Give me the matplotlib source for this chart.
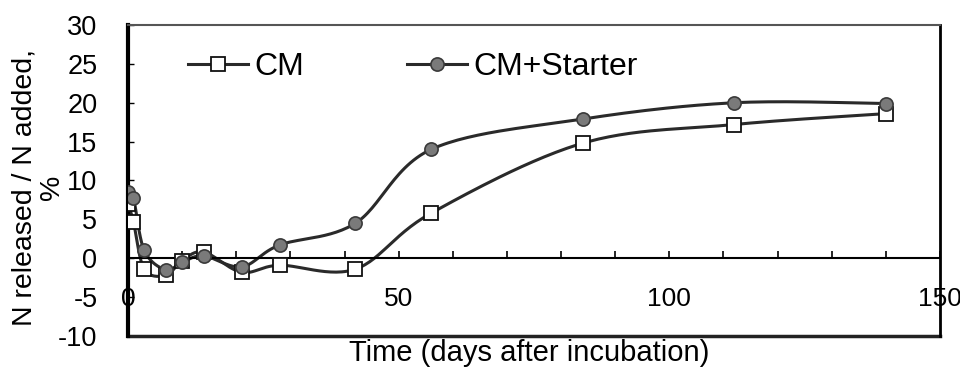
import numpy as np
import matplotlib
matplotlib.use("Agg")
import matplotlib.pyplot as plt
import matplotlib.transforms as mtransforms
from matplotlib.ticker import MultipleLocator

plt.rcParams['font.family'] = ['Liberation Sans', 'DejaVu Sans']
plt.rcParams['axes.unicode_minus'] = False

# data
days = [0, 1, 3, 7, 10, 14, 21, 28, 42, 56, 84, 112, 140]
cm = [7.0, 4.7, -1.4, -2.2, -0.3, 0.8, -1.8, -0.9, -1.4, 5.8, 14.8, 17.2, 18.6]
cm_starter = [8.5, 7.8, 1.0, -1.5, -0.5, 0.3, -1.1, 1.7, 4.5, 14.0, 17.9, 20.0, 19.9]

line_col = '#2a2a2a'


def smooth(ax, xs, ys, n=30):
    # Excel-like smoothed line: Catmull-Rom in display space
    pts = ax.transData.transform(np.column_stack([xs, ys]))
    p = np.vstack([pts[0], pts, pts[-1]])
    out = []
    t = np.linspace(0, 1, n)[:, None]
    for i in range(1, len(p) - 2):
        p0, p1, p2, p3 = p[i - 1], p[i], p[i + 1], p[i + 2]
        c1 = p1 + (p2 - p0) / 6.0
        c2 = p2 - (p3 - p1) / 6.0
        seg = ((1 - t) ** 3) * p1 + 3 * ((1 - t) ** 2) * t * c1 \
            + 3 * (1 - t) * t ** 2 * c2 + t ** 3 * p2
        out.append(seg)
    out = np.vstack(out)
    return ax.transData.inverted().transform(out)


fig = plt.figure(figsize=(9.6, 3.68), dpi=100)
ax = fig.add_axes([128 / 960, 1 - 336 / 368, 812 / 960, 311 / 368])
ax.set_xlim(0, 150)
ax.set_ylim(-10, 30)

sq = dict(marker='s', ms=10, mfc='white', mec='#111111', mew=1.3)
ci = dict(marker='o', ms=9.5, mfc='#7a7a7a', mec='#3a3a3a', mew=1.2)

c1 = smooth(ax, days, cm)
c2 = smooth(ax, days, cm_starter)
ax.plot(c1[:, 0], c1[:, 1], color=line_col, lw=2.2, zorder=2)
ax.plot(c2[:, 0], c2[:, 1], color=line_col, lw=2.2, zorder=2)
ax.plot(days, cm, ls='none', zorder=3, **sq)
ax.plot(days, cm_starter, ls='none', zorder=4, **ci)

# legend handles
h1, = ax.plot([], [], color=line_col, lw=2.2, **sq)
h2, = ax.plot([], [], color=line_col, lw=2.2, **ci)
ax.legend([h1, h2], ['CM', 'CM+Starter'], ncol=2, frameon=False,
          loc='center left', bbox_to_anchor=(0.074, 1 - 42 / 311),
          borderpad=0, borderaxespad=0, fontsize=23,
          handlelength=1.87, handletextpad=0.22, columnspacing=3.2)

# x axis drawn on the zero line, frame around the plot
ax.spines['bottom'].set_position(('data', 0))
ax.spines['bottom'].set_linewidth(1.5)
ax.spines['left'].set_linewidth(3)
ax.spines['right'].set_linewidth(2)
ax.spines['top'].set_linewidth(1.5)
ax.spines['top'].set_color('#555555')
ax.plot([0, 1], [0, 0], transform=ax.transAxes, color='#222222', lw=2.5,
        clip_on=False)

ax.xaxis.set_major_locator(MultipleLocator(50))
ax.xaxis.set_minor_locator(MultipleLocator(10))
ax.yaxis.set_major_locator(MultipleLocator(5))
ax.tick_params(axis='x', which='both', direction='in', length=5, width=1.2,
               labelsize=19, pad=21, top=False)
ax.tick_params(axis='y', direction='in', length=4, width=1, labelsize=19.5,
               pad=22, right=False)

# nudge the last x label so it stays inside the figure
fig.canvas.draw()
last = ax.get_xticklabels()[-1]
last.set_transform(last.get_transform() +
                   mtransforms.ScaledTranslation(-5 / 100, 0, fig.dpi_scale_trans))

fig.text(0.04, 0.49, 'N released / N added,\n%', rotation=90, ha='center',
         va='center', fontsize=20.5, multialignment='center', linespacing=1.05)
fig.text(529 / 960, 1 - 353 / 368, 'Time (days after incubation)',
         ha='center', va='center', fontsize=21)

fig.savefig('out.png', dpi=100)
